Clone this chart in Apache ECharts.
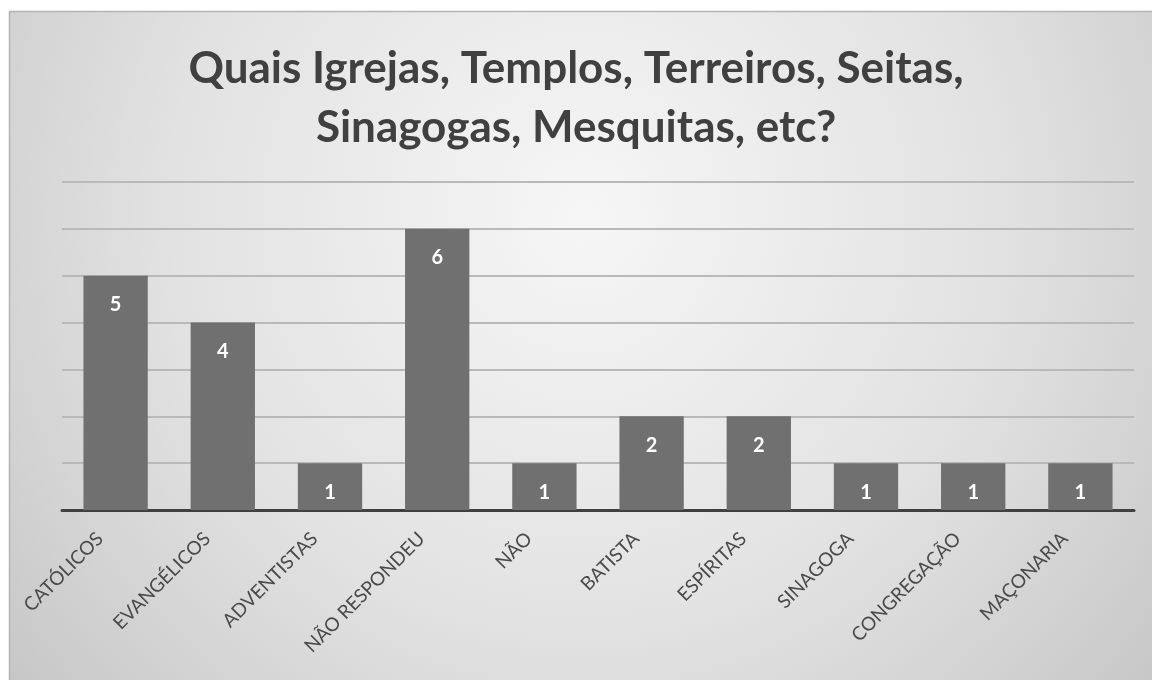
<!DOCTYPE html>
<html>
<head>
<meta charset="utf-8">
<script src="https://cdn.jsdelivr.net/npm/echarts@6/dist/echarts.min.js"></script>
<style>html,body{margin:0;padding:0;background:#fff}#c{width:1152px;height:680px}</style>
</head>
<body>
<div id="c"></div>
<script>
const titleText = "Quais Igrejas, Templos, Terreiros, Seitas,\nSinagogas, Mesquitas, etc?";
const categories = ["CATÓLICOS","EVANGÉLICOS","ADVENTISTAS","NÃO RESPONDEU","NÃO","BATISTA","ESPÍRITAS","SINAGOGA","CONGREGAÇÃO","MAÇONARIA"];
const values = [5,4,1,6,1,2,2,1,1,1];

const chart = echarts.init(document.getElementById('c'));
chart.setOption({
  animation:false,
  graphic:[{
    type:'rect', z:-10, silent:true,
    shape:{x:9.5,y:11.5,width:1150,height:680},
    style:{
      fill:{type:'radial',x:0.5,y:0.3,r:1.1,colorStops:[
        {offset:0,color:'#f6f6f6'},{offset:0.55,color:'#e2e2e2'},{offset:0.8,color:'#d3d3d3'},{offset:1,color:'#c6c6c6'}]},
      stroke:'#b4b4b4', lineWidth:1.5
    }
  }],
  title:{
    text:titleText, left:'center', top:34,
    textStyle:{fontFamily:'Lato',fontWeight:'bold',fontSize:44,color:'#404040',lineHeight:59}
  },
  grid:{left:62,right:18,top:182,bottom:170,containLabel:false},
  xAxis:{
    type:'category', data:categories,
    axisLine:{lineStyle:{color:'#404040',width:3}},
    axisTick:{show:false},
    axisLabel:{rotate:45,interval:0,margin:10,padding:[0,22,0,0],fontFamily:'Lato',fontSize:19,color:'#4a4a4a'}
  },
  yAxis:{
    type:'value', min:0, max:7, interval:1,
    axisLabel:{show:false}, axisLine:{show:false}, axisTick:{show:false},
    splitLine:{lineStyle:{color:'#b9b9b9',width:2}}
  },
  series:[{
    type:'bar', data:values, barCategoryGap:'40%',
    itemStyle:{color:'#707070'},
    label:{show:true,position:'insideTop',distance:19,color:'#ffffff',fontFamily:'Lato',fontWeight:'bold',fontSize:20}
  }]
});
</script>
</body>
</html>
